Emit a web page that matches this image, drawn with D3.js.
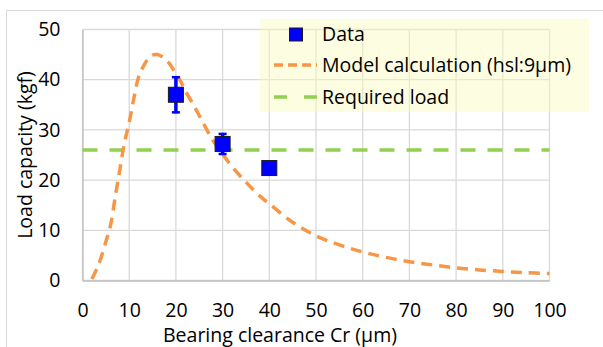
<!DOCTYPE html>
<html>
<head>
<meta charset="utf-8">
<script src="https://cdn.jsdelivr.net/npm/d3@7"></script>
<style>
  html, body { margin: 0; padding: 0; background: #fff; }
  svg text { font-family: "Open Sans", "DejaVu Sans", sans-serif; fill: #000; }
</style>
</head>
<body>
<svg id="chart" width="603" height="347"></svg>
<script>
// Measured load capacity vs bearing clearance
const dataX = [20, 30, 40];
const dataY = [37, 27.2, 22.4];
const dataErr = [3.7, 2.2, 0];

// Model calculation (hsl: 9 µm)
const modelX = [2, 3, 4, 5, 6, 7, 8, 9, 10, 11, 12, 13, 14, 15, 16, 17, 18, 19, 20, 21, 22, 24, 26, 28, 30, 32, 35, 38, 40, 45, 50, 55, 60, 65, 70, 75, 80, 85, 90, 95, 100];
const modelY = [0.3, 2.2, 4.6, 7.7, 11.0, 16.6, 22.1, 27.5, 31.5, 36.3, 40.5, 42.6, 44.1, 44.9, 45.0, 44.6, 43.9, 42.7, 41.2, 39.7, 37.8, 34.6, 31.1, 27.8, 25.2, 22.7, 19.6, 16.8, 15.3, 11.6, 8.9, 7.1, 5.7, 4.6, 3.75, 3.1, 2.5, 2.1, 1.8, 1.55, 1.4];

// Required load level
const requiredLoad = 26;

const xTicks = [0, 10, 20, 30, 40, 50, 60, 70, 80, 90, 100];
const yTicks = [0, 10, 20, 30, 40, 50];

const fs = 19.5;
const svg = d3.select("#chart");

// outer chart frame
svg.append("rect")
  .attr("x", 6.5).attr("y", 10.5).attr("width", 700).attr("height", 500)
  .attr("fill", "#fff").attr("stroke", "#d9d9d9").attr("stroke-width", 1);

const x = d3.scaleLinear().domain([0, 100]).range([82.5, 549.5]);
const y = d3.scaleLinear().domain([0, 50]).range([280.5, 29.5]);

// gridlines
const grid = svg.append("g");
grid.selectAll("line.v").data(xTicks).join("line")
  .attr("x1", d => x(d)).attr("x2", d => x(d))
  .attr("y1", y(0)).attr("y2", y(50))
  .attr("stroke", "#d9d9d9").attr("stroke-width", 1.3);
grid.selectAll("line.h").data(yTicks).join("line")
  .attr("x1", x(0)).attr("x2", x(100))
  .attr("y1", d => y(d)).attr("y2", d => y(d))
  .attr("stroke", "#d9d9d9").attr("stroke-width", 1.3);

// axes (labels only)
const xAxis = d3.axisBottom(x).tickValues(xTicks).tickSize(0).tickPadding(23);
const gx = svg.append("g").attr("transform", `translate(0,${y(0)})`).call(xAxis);
gx.select(".domain").attr("stroke", "#bfbfbf").attr("stroke-width", 1.3);
gx.selectAll("text").attr("font-size", fs).attr("font-family", null).attr("dy", "0.71em");

const yAxis = d3.axisLeft(y).tickValues(yTicks).tickSize(0).tickPadding(22);
const gy = svg.append("g").attr("transform", `translate(${x(0)},0)`).call(yAxis);
gy.select(".domain").attr("stroke", "#bfbfbf").attr("stroke-width", 1.3);
gy.selectAll("text").attr("font-size", fs).attr("font-family", null);

// axis titles
svg.append("text")
  .attr("x", 280).attr("y", 342)
  .attr("text-anchor", "middle").attr("font-size", fs)
  .text("Bearing clearance Cr (µm)");
svg.append("text")
  .attr("transform", "translate(32,155) rotate(-90)")
  .attr("text-anchor", "middle").attr("font-size", fs)
  .text("Load capacity (kgf)");

// required load line
svg.append("line")
  .attr("x1", x(0)).attr("x2", x(100))
  .attr("y1", y(requiredLoad)).attr("y2", y(requiredLoad))
  .attr("stroke", "#92d050").attr("stroke-width", 3.5)
  .attr("stroke-dasharray", "15,12");

// model curve
const modelPts = modelX.map((v, i) => [v, modelY[i]]);
const line = d3.line().x(d => x(d[0])).y(d => y(d[1])).curve(d3.curveCatmullRom.alpha(0.5));
svg.append("path")
  .attr("d", line(modelPts))
  .attr("fill", "none").attr("stroke", "#f79646").attr("stroke-width", 3.5)
  .attr("stroke-dasharray", "11,7");

// error bars
const pts = dataX.map((v, i) => ({ x: v, y: dataY[i], e: dataErr[i] }));
const withErr = pts.filter(d => d.e > 0);
const eb = svg.append("g").attr("stroke", "#0000ff");
eb.selectAll("line.bar").data(withErr).join("line")
  .attr("x1", d => x(d.x)).attr("x2", d => x(d.x))
  .attr("y1", d => y(d.y - d.e)).attr("y2", d => y(d.y + d.e))
  .attr("stroke-width", 3.5);
eb.selectAll("line.capT").data(withErr).join("line")
  .attr("x1", d => x(d.x) - 4).attr("x2", d => x(d.x) + 4)
  .attr("y1", d => y(d.y + d.e) + 1).attr("y2", d => y(d.y + d.e) + 1)
  .attr("stroke-width", 2.5);
eb.selectAll("line.capB").data(withErr).join("line")
  .attr("x1", d => x(d.x) - 4).attr("x2", d => x(d.x) + 4)
  .attr("y1", d => y(d.y - d.e) - 1).attr("y2", d => y(d.y - d.e) - 1)
  .attr("stroke-width", 2.5);

// data markers
const ms = 15;
svg.selectAll("rect.pt").data(pts).join("rect")
  .attr("x", d => x(d.x) - ms / 2).attr("y", d => y(d.y) - ms / 2)
  .attr("width", ms).attr("height", ms)
  .attr("fill", "#0000ff").attr("stroke", "#1a1a1a").attr("stroke-width", 1);

// legend
const lg = svg.append("g");
lg.append("rect")
  .attr("x", 260).attr("y", 19).attr("width", 329).attr("height", 93)
  .attr("fill", "rgb(250,250,190)").attr("fill-opacity", 0.45);
lg.append("rect")
  .attr("x", 289.5).attr("y", 28).attr("width", 13).attr("height", 13)
  .attr("fill", "#0000ff").attr("stroke", "#1a1a1a").attr("stroke-width", 1);
lg.append("line")
  .attr("x1", 274).attr("x2", 317).attr("y1", 65).attr("y2", 65)
  .attr("stroke", "#f79646").attr("stroke-width", 3.5).attr("stroke-dasharray", "9,5");
lg.append("line")
  .attr("x1", 274).attr("x2", 317).attr("y1", 97).attr("y2", 97)
  .attr("stroke", "#92d050").attr("stroke-width", 3.5).attr("stroke-dasharray", "13,17");
const labels = ["Data", "Model calculation (hsl:9µm)", "Required load"];
const ly = [34.5, 65.5, 97];
lg.selectAll("text").data(labels).join("text")
  .attr("x", 322).attr("y", (d, i) => ly[i]).attr("dy", "0.35em")
  .attr("font-size", fs).text(d => d);
</script>
</body>
</html>
